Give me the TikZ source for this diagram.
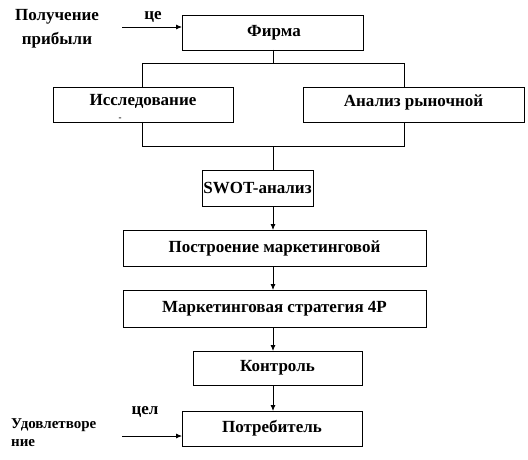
\documentclass[tikz,border=0pt]{standalone}
\usepackage{fontspec}
\setmainfont{Liberation Serif}
\usetikzlibrary{arrows.meta}
\begin{document}
\begin{tikzpicture}[x=1pt,y=-1pt,
  box/.style={draw,line width=0.8pt},
  txt/.style={font=\bfseries\fontsize{17}{19}\selectfont,inner sep=0pt},
  lbl/.style={font=\bfseries\fontsize{17}{19}\selectfont,inner sep=0pt},
  slbl/.style={font=\bfseries\fontsize{15}{17}\selectfont,inner sep=0pt},
  conn/.style={line width=0.8pt},
  arr/.style={line width=0.8pt,-{Latex[length=6pt,width=5pt]}}]
\useasboundingbox (0,0) rectangle (528,460);
% boxes (corner coordinates in pixels)
\path[box] (182,15) rectangle (363,50);
\node[txt] (firma) at (274,32.5) {Фирма};
\coordinate (firmaS) at (273,50);
\path[box] (53,87) rectangle (233,122);
\node[txt] (issl) at (143,101.5) {Исследование};
\node[font=\bfseries\fontsize{9}{10}\selectfont,inner sep=0pt] (dash) at (120,119) {-};
\path[box] (303,87) rectangle (524,122);
\node[txt] (anal) at (413.5,102) {Анализ рыночной};
\path[box] (202,170) rectangle (313,206);
\node[txt] (swot) at (257.5,188) {SWOT-анализ};
\path[box] (123,230) rectangle (426,266);
\node[txt] (postr) at (274.5,248) {Построение маркетинговой};
\path[box] (123,290) rectangle (426,327);
\node[txt] (strat) at (274.5,308.5) {Маркетинговая стратегия 4P};
\path[box] (193,351) rectangle (362,385);
\node[txt] (kontr) at (277.5,368) {Контроль};
\path[box] (182,411) rectangle (362,446);
\node[txt] (potr) at (272,428.5) {Потребитель};
% coordinates for connectors
\coordinate (jTop) at (273,63);
\coordinate (jTopL) at (142,63);
\coordinate (jTopR) at (404,63);
\coordinate (isslN) at (142,87);
\coordinate (analN) at (404,87);
\coordinate (isslS) at (142,122);
\coordinate (analS) at (404,122);
\coordinate (jBotL) at (142,146);
\coordinate (jBotR) at (404,146);
\coordinate (jBot) at (273,146);
\coordinate (swotN) at (273,170);
\coordinate (swotS) at (273,206);
\coordinate (postrN) at (273,230);
\coordinate (postrS) at (273,266);
\coordinate (stratN) at (273,290);
\coordinate (stratS) at (273,327);
\coordinate (kontrN) at (273,351);
\coordinate (kontrS) at (273,385);
\coordinate (potrN) at (273,411);
\coordinate (inA) at (122,27);
\coordinate (firmaW) at (182,27);
\coordinate (inB) at (122,436);
\coordinate (potrW) at (182,436);
% connectors
\draw[conn] (firmaS) -- (jTop);
\draw[conn] (isslN) -- (jTopL) -- (jTopR) -- (analN);
\draw[conn] (isslS) -- (jBotL) -- (jBotR) -- (analS);
\draw[conn] (jBot) -- (swotN);
\draw[arr] (swotS) -- (postrN);
\draw[arr] (postrS) -- (stratN);
\draw[arr] (stratS) -- (kontrN);
\draw[arr] (kontrS) -- (potrN);
\draw[arr] (inA) -- (firmaW);
\draw[arr] (inB) -- (potrW);
% labels
\node[lbl] (l1) at (57,17) {Получение};
\node[lbl] (l2) at (57,40) {прибыли};
\node[lbl] (l3) at (153,17) {це};
\node[lbl] (l4) at (145,412) {цел};
\node[slbl,anchor=west] (l5) at (11,425) {Удовлетворе};
\node[slbl,anchor=west] (l6) at (11,443) {ние};
\end{tikzpicture}
\end{document}
